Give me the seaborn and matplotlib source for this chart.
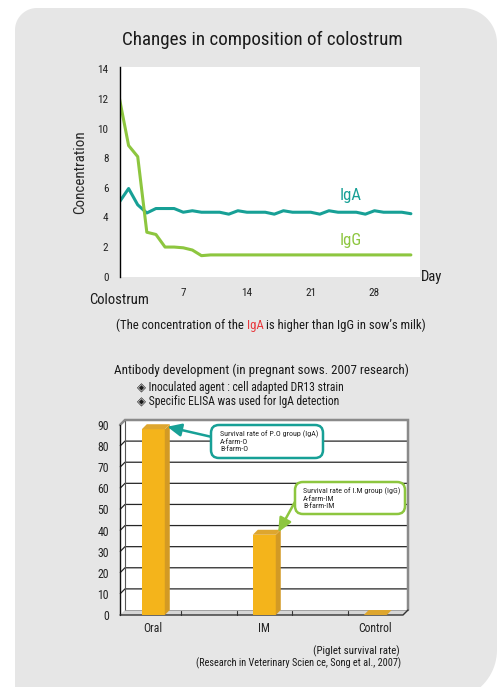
import numpy as np
import pandas as pd
import matplotlib
matplotlib.use("Agg")
import matplotlib.pyplot as plt
from matplotlib import font_manager
from matplotlib.patches import Polygon, FancyBboxPatch
from matplotlib.transforms import IdentityTransform, blended_transform_factory
import seaborn as sns

# ---------------- data ----------------
days = list(range(33))
iga_conc = [5.05, 5.95, 4.85, 4.30, 4.60, 4.60, 4.60, 4.35, 4.45, 4.35, 4.35,
            4.35, 4.22, 4.45, 4.35, 4.35, 4.35, 4.22, 4.45, 4.35, 4.35, 4.35,
            4.22, 4.45, 4.35, 4.35, 4.35, 4.22, 4.45, 4.35, 4.35, 4.35, 4.25]
igg_conc = [12.0, 8.85, 8.10, 3.00, 2.85, 2.00, 2.00, 1.95, 1.80, 1.42, 1.47,
            1.47, 1.47, 1.47, 1.47, 1.47, 1.47, 1.47, 1.47, 1.47, 1.47, 1.47,
            1.47, 1.47, 1.47, 1.47, 1.47, 1.47, 1.47, 1.47, 1.47, 1.47, 1.47]
day_ticks = [7, 14, 21, 28]
conc_ticks = [0, 2, 4, 6, 8, 10, 12, 14]

groups = ["Oral", "IM", "Control"]
survival = [88, 38, 0]
survival_ticks = [0, 10, 20, 30, 40, 50, 60, 70, 80, 90]

# ---------------- style ----------------
W, H, DPI = 500, 687, 100
sns.set_theme(style="white")
avail = {f.name for f in font_manager.fontManager.ttflist}
narrow = next((n for n in ["Liberation Sans Narrow", "Roboto Condensed",
                           "Open Sans Condensed", "Liberation Sans"] if n in avail),
              "DejaVu Sans")
plt.rcParams["font.family"] = [narrow, "DejaVu Sans"]
plt.rcParams["text.color"] = "#1a1a1a"

TEAL = "#17a096"
GREEN = "#8dc63f"
RED = "#e8383d"
PANEL = "#e6e6e6"
BAR_FRONT = "#f4b41b"
BAR_SIDE = "#d39a24"
BAR_TOP = "#dea62e"

fig = plt.figure(figsize=(W / DPI, H / DPI), dpi=DPI, facecolor="white")


def fx(x):
    return x / W


def fy(y):
    return 1 - y / H


def ftxt(x, y, s, **kw):
    return fig.text(fx(x), fy(y), s, **kw)


# rounded grey panel behind everything
def rounded_panel(x0, ytop, x1, ybot, r_tl, r_tr, r_br, r_bl):
    Yt, Yb = H - ytop, H - ybot
    pts = []

    def arc(cx, cy, r, a0, a1):
        t = np.radians(np.linspace(a0, a1, 24))
        pts.extend(zip(cx + r * np.cos(t), cy + r * np.sin(t)))

    arc(x1 - r_tr, Yt - r_tr, r_tr, 0, 90)
    arc(x0 + r_tl, Yt - r_tl, r_tl, 90, 180)
    arc(x0 + r_bl, Yb + r_bl, r_bl, 180, 270)
    arc(x1 - r_br, Yb + r_br, r_br, 270, 360)
    return Polygon(pts, closed=True, transform=IdentityTransform(),
                   facecolor=PANEL, edgecolor="none", zorder=-10)


fig.add_artist(rounded_panel(15, 8, 497, 700, 22, 35, 50, 1))

# ---------------- line chart ----------------
ax1 = fig.add_axes([fx(119.5), fy(276.7), (420 - 119.5) / W, (276.7 - 67) / H])
df = pd.DataFrame({
    "day": days + days,
    "conc": iga_conc + igg_conc,
    "antibody": ["IgA"] * len(days) + ["IgG"] * len(days),
})
sns.lineplot(data=df, x="day", y="conc", hue="antibody", hue_order=["IgA", "IgG"],
             palette={"IgA": TEAL, "IgG": GREEN}, linewidth=2.2, legend=False,
             ax=ax1)
ax1.set_xlim(0, 33)
ax1.set_ylim(0, 14.15)
ax1.set_facecolor("white")
for side in ["top", "right", "bottom"]:
    ax1.spines[side].set_visible(False)
ax1.spines["left"].set_color("black")
ax1.spines["left"].set_linewidth(1.0)
ax1.set_xticks(day_ticks)
ax1.set_yticks(conc_ticks)
ax1.tick_params(axis="both", length=0, labelsize=8, colors="#222222")
ax1.tick_params(axis="x", pad=8)
ax1.tick_params(axis="y", pad=8)
ax1.set_xlabel("")
ax1.set_ylabel("Concentration", fontsize=10.8, labelpad=7)
ax1.text(1.004, 0, "Day", transform=ax1.transAxes, ha="left", va="center",
         fontsize=10.5)
ax1.text(0, -0.109, "Colostrum", transform=blended_transform_factory(ax1.transData, ax1.transAxes),
         ha="center", va="center", fontsize=10.5)
ax1.text(25.4, 5.47, "IgA", color=TEAL, fontsize=12, ha="center", va="center")
ax1.text(25.4, 2.43, "IgG", color=GREEN, fontsize=12, ha="center", va="center")

ftxt(262, 40, "Changes in composition of colostrum", ha="center", va="center",
     fontsize=13.7)

# caption with the highlighted antibody name
renderer = fig.canvas.get_renderer()
pieces = [("(The concentration of the", "#1a1a1a"), (" ", None), ("IgA", RED), (" ", None),
          ("is higher than IgG in sow\u2019s milk)", "#1a1a1a")]
cap_size = 9.2


def text_width(s):
    t = fig.text(0, 0, s, fontsize=cap_size)
    w = t.get_window_extent(renderer).width
    t.remove()
    return w


space_w = text_width("x x") - text_width("xx")
widths = [space_w if c is None else text_width(s) for s, c in pieces]
x_cur = 271 - sum(widths) / 2
for (s, c), w in zip(pieces, widths):
    if c is not None:
        ftxt(x_cur, 329, s, color=c, fontsize=cap_size, ha="left", va="baseline")
    x_cur += w

ftxt(261, 370, "Antibody development (in pregnant sows. 2007 research)", ha="center",
     va="center", fontsize=9.4)
ftxt(137, 388, "\u25c8 Inoculated agent : cell adapted DR13 strain", ha="left",
     va="center", fontsize=8.4)
ftxt(137, 401, "\u25c8 Specific ELISA was used for IgA detection", ha="left",
     va="center", fontsize=8.4)

# ---------------- 3-D style bar chart ----------------
ax_w_px, ax_h_px = 283, 190
axb = fig.add_axes([fx(120), fy(615), ax_w_px / W, ax_h_px / H])
sns.barplot(x=groups, y=survival, color=BAR_FRONT, saturation=1, width=0.207,
            ax=axb, zorder=4)
bars = list(axb.patches)

x0, x1 = -0.3, 2.25
ymax = 90
axb.set_xlim(x0, x1)
axb.set_ylim(0, ymax)
dx = 5 * (x1 - x0) / ax_w_px
dy = 5 * ymax / ax_h_px
axb.set_facecolor("none")
for s in axb.spines.values():
    s.set_visible(False)

# box: side wall + back wall
axb.add_patch(Polygon([(x0, 0), (x0, ymax), (x0 + dx, ymax + dy), (x1 + dx, ymax + dy),
                       (x1 + dx, dy), (x1, 0)], closed=True, facecolor="white",
                      edgecolor="none", clip_on=False, zorder=0))
# floor
axb.add_patch(Polygon([(x0, 0), (x0 + dx, dy), (x1 + dx, dy), (x1, 0)], closed=True,
                      facecolor="#d6d6d6", edgecolor="none", clip_on=False, zorder=0.5))
for v in survival_ticks[1:-1]:
    axb.plot([x0, x0 + dx, x1 + dx], [v, v + dy, v + dy], color="#262626", lw=0.9,
             clip_on=False, zorder=1, solid_capstyle="butt")
axb.plot([x0, x0 + dx, x1 + dx, x1 + dx], [ymax, ymax + dy, ymax + dy, dy],
         color="#8a8a8a", lw=1.8, clip_on=False, zorder=1.2, solid_joinstyle="miter")
axb.plot([x0 + dx, x0 + dx], [dy, ymax + dy], color="#555555", lw=0.8, clip_on=False, zorder=1)
axb.plot([x0, x0], [0, ymax], color="#111111", lw=1.0, clip_on=False, zorder=1.3)
axb.plot([x0, x1, x1 + dx], [0, 0, dy], color="#333333", lw=1.0, clip_on=False, zorder=1.3)
axb.plot([x0 + dx, x1 + dx], [dy, dy], color="#9a9a9a", lw=0.6, clip_on=False, zorder=1.1)
for t in [0.25, 0.75, 1.25, 1.75]:
    axb.plot([t, t], [0, dy * 0.9], color="#333333", lw=0.8, clip_on=False, zorder=1.3)

for b in bars:
    bx, bw, bh = b.get_x(), b.get_width(), b.get_height()
    b.set_edgecolor("none")
    axb.add_patch(Polygon([(bx + bw, 0), (bx + bw, bh), (bx + bw + dx, bh + dy),
                           (bx + bw + dx, dy)], closed=True, facecolor=BAR_SIDE,
                          edgecolor="none", zorder=4, clip_on=False))
    axb.add_patch(Polygon([(bx, bh), (bx + bw, bh), (bx + bw + dx, bh + dy),
                           (bx + dx, bh + dy)], closed=True, facecolor=BAR_TOP,
                          edgecolor="none", zorder=4, clip_on=False))

axb.set_yticks(survival_ticks)
axb.tick_params(axis="both", length=0, labelsize=8.5, colors="#222222")
axb.tick_params(axis="y", pad=8)
axb.tick_params(axis="x", pad=5)
axb.set_xlabel("")
axb.set_ylabel("")


# callout boxes
def callout(bx0, by0, bx1, by1, color, lines, tx, ty0, bar, start):
    box = FancyBboxPatch((bx0, H - by1), bx1 - bx0, by1 - by0,
                         boxstyle="round,pad=0,rounding_size=8",
                         transform=IdentityTransform(), facecolor="white",
                         edgecolor=color, lw=1.8, zorder=5)
    fig.add_artist(box)
    for i, s in enumerate(lines):
        ftxt(tx, ty0 + i * 7.6, s, ha="left", va="center", fontsize=5.8,
             color="#222222", zorder=6)
    tip = (bar.get_x() + bar.get_width() + dx * 0.5, bar.get_height() + dy * 0.5)
    axb.annotate("", xy=tip, xycoords="data", xytext=(start[0], H - start[1]),
                 textcoords="figure pixels",
                 arrowprops=dict(arrowstyle="-|>,head_length=0.7,head_width=0.32",
                                 color=color, lw=1.8, shrinkA=0, shrinkB=0),
                 annotation_clip=False, zorder=5)


callout(211, 425, 323, 458, TEAL,
        ["Survival rate of P.O group (IgA)", "A-farm-O", "B-farm-O"],
        220, 434, bars[0], (212, 437))
callout(295, 482, 405, 514, GREEN,
        ["Survival rate of I.M group (IgG)", "A-farm-IM", "B-farm-IM"],
        303, 491, bars[1], (296, 500))

ftxt(356, 651, "(Piglet survival rate)", ha="center", va="center", fontsize=7.8)
ftxt(401, 663, "(Research in Veterinary Scien ce, Song et al., 2007)", ha="right",
     va="center", fontsize=7.4)

fig.savefig("out.png", dpi=DPI, facecolor="white")
